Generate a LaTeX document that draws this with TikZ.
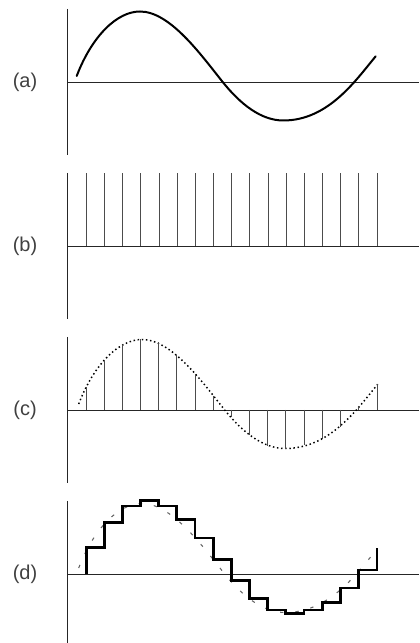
\documentclass[tikz,border=0pt]{standalone}
\usepackage{fontspec}
\setmainfont{Liberation Sans}
\newcommand{\wavecurve}[1]{%
  \draw[#1] (76.7,6) .. controls (92,46) and (117,70.5) .. (140,70.5)
    .. controls (170,70.5) and (200.7,27.5) .. (222.7,0)
    .. controls (240.7,-22.5) and (261.3,-38.5) .. (283.3,-38.5)
    .. controls (328.3,-38.5) and (355.7,1.7) .. (375.7,25.7);}
\begin{document}
\begin{tikzpicture}[x=0.75pt, y=0.75pt,
    axis/.style={line width=0.7pt, black!85},
    sample/.style={line width=0.7pt, black!70},
    lbl/.style={text=black!75, font=\fontsize{15}{17}\selectfont}]
    \useasboundingbox (0,0) rectangle (419,643);

    % (a) analogue signal
    \begin{scope}[shift={(0,561)}]
        \draw[axis] (67,73) -- (67,-73);
        \draw[axis] (67,0) -- (419,0);
        \node[lbl] (la) at (25,0) {(a)};
        \wavecurve{line width=1.5pt, line cap=round}
    \end{scope}

    % (b) sampling pulses
    \begin{scope}[shift={(0,397)}]
        \draw[axis] (67,73) -- (67,-73);
        \draw[axis] (67,0) -- (419,0);
        \node[lbl] (lb) at (25,0) {(b)};
        \foreach \i in {0,...,16}
            \draw[sample] ({86.3+18.17*\i},0) -- ({86.3+18.17*\i},73);
    \end{scope}

    % (c) sampled values
    \begin{scope}[shift={(0,233)}]
        \draw[axis] (67,73) -- (67,-73);
        \draw[axis] (67,0) -- (419,0);
        \node[lbl] (lc) at (25,0) {(c)};
        \wavecurve{shift={(2,0)}, line width=1.1pt, dash pattern=on 1.1pt off 2pt}
        \foreach \x/\h in {86.3/22.7, 104.7/50.3, 122.7/65.3, 140.7/70.5, 158.7/67.7,
                           176.7/55, 195/36, 213.3/14.3, 231.3/-7.3, 249.7/-24.7,
                           267.7/-35.7, 285.7/-39, 304/-35, 322.3/-28.7, 340.3/-17.3,
                           358.7/2.5, 377/26}
            \draw[sample] (\x,0) -- (\x,\h);
    \end{scope}

    % (d) sample and hold
    \begin{scope}[shift={(0,69)}]
        \draw[axis] (67,73) -- (67,-73);
        \draw[axis] (67,0) -- (419,0);
        \node[lbl] (ld) at (25,0) {(d)};
        \wavecurve{shift={(2,0)}, line width=0.8pt, black!60, dash pattern=on 2.5pt off 9pt}
        \draw[line width=2pt, line join=miter] (86.3,0) -- (86.3,26.7)
            -| (104.7,51.3) -| (122.7,68) -| (140.7,73.3) -| (158.7,68)
            -| (176.7,54.7) -| (195,36) -| (213.3,14.7) -| (231.3,-6.7)
            -| (249.7,-24.7) -| (267.7,-36) -| (285.7,-39.3) -| (304,-36)
            -| (322.3,-28.7) -| (340.3,-14) -| (358.7,4) -| (377,26);
    \end{scope}
\end{tikzpicture}
\end{document}
